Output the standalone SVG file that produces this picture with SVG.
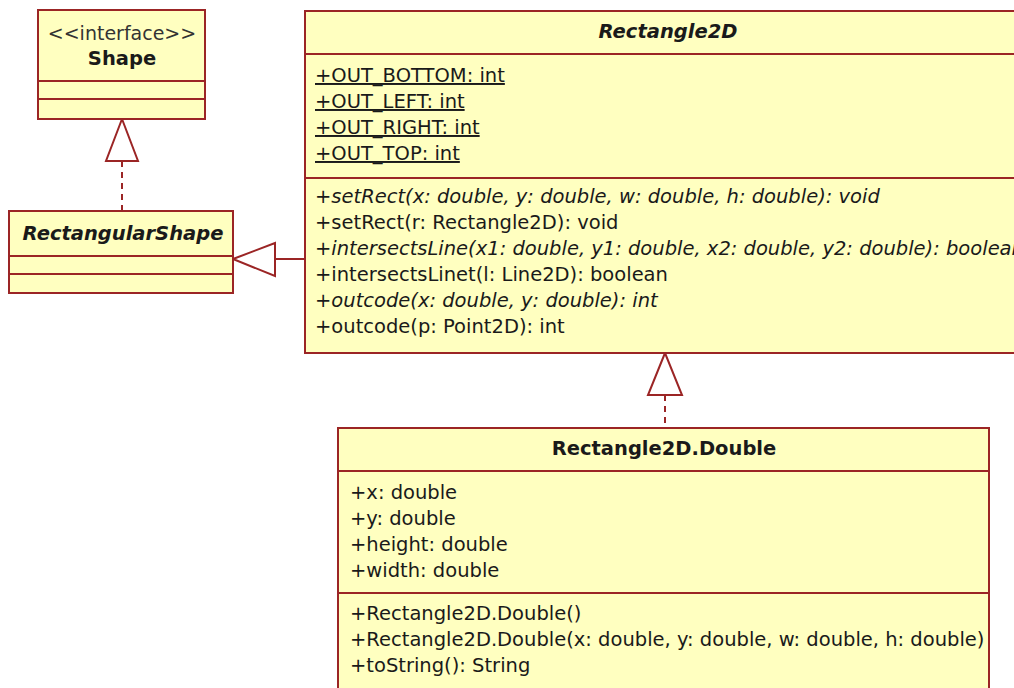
<svg xmlns="http://www.w3.org/2000/svg" width="1014" height="688" viewBox="0 0 1014 688">
  <style>
    .box { fill: #ffffc0; stroke: #9b2525; stroke-width: 2; }
    .sep { stroke: #9b2525; stroke-width: 2; }
    .edge { stroke: #9b2525; stroke-width: 2; fill: none; }
    .dash { stroke-dasharray: 6 5; }
    .head { fill: #ffffff; stroke: #9b2525; stroke-width: 2; }
    text { font-family: "DejaVu Sans", Verdana, sans-serif; font-size: 19.5px; fill: #1a1a1a; }
    .title { font-weight: bold; text-anchor: middle; }
    .abs { font-style: italic; }
    .static { text-decoration: underline; }
    .stereo { fill: #333; text-anchor: middle; font-size: 19px; }
  </style>
  <rect width="1014" height="688" fill="#ffffff"/>

  <g id="connectors">
    <!-- RectangularShape realizes Shape -->
    <line class="edge dash" x1="122" y1="161" x2="122" y2="211"/>
    <polygon class="head" points="122,119 106,161 138,161"/>
    <!-- Rectangle2D extends RectangularShape -->
    <line class="edge" x1="275" y1="259" x2="305" y2="259"/>
    <polygon class="head" points="233,259 275,243 275,276"/>
    <!-- Rectangle2D.Double extends Rectangle2D -->
    <line class="edge dash" x1="665" y1="395" x2="665" y2="428"/>
    <polygon class="head" points="665,353 648,395 682,395"/>
  </g>

  <g id="shape">
    <rect class="box" x="38" y="10" width="167" height="109"/>
    <line class="sep" x1="38" y1="81" x2="205" y2="81"/>
    <line class="sep" x1="38" y1="99" x2="205" y2="99"/>
    <text class="stereo" x="122" y="40">&lt;&lt;interface&gt;&gt;</text>
    <text class="title" x="122" y="65">Shape</text>
  </g>

  <g id="rectangularShape">
    <rect class="box" x="9" y="211" width="224" height="82"/>
    <line class="sep" x1="9" y1="256" x2="233" y2="256"/>
    <line class="sep" x1="9" y1="274" x2="233" y2="274"/>
    <text class="title abs" x="123" y="240">RectangularShape</text>
  </g>

  <g id="rectangle2D">
    <rect class="box" x="305" y="11" width="720" height="342"/>
    <line class="sep" x1="305" y1="54" x2="1014" y2="54"/>
    <line class="sep" x1="305" y1="178" x2="1014" y2="178"/>
    <text class="title abs" x="668" y="38">Rectangle2D</text>
    <text class="static" x="315" y="82">+OUT_BOTTOM: int</text>
    <text class="static" x="315" y="108">+OUT_LEFT: int</text>
    <text class="static" x="315" y="134">+OUT_RIGHT: int</text>
    <text class="static" x="315" y="160">+OUT_TOP: int</text>
    <text class="abs" x="315" y="203">+setRect(x: double, y: double, w: double, h: double): void</text>
    <text x="315" y="229">+setRect(r: Rectangle2D): void</text>
    <text class="abs" x="315" y="255">+intersectsLine(x1: double, y1: double, x2: double, y2: double): boolean</text>
    <text x="315" y="281">+intersectsLinet(l: Line2D): boolean</text>
    <text class="abs" x="315" y="307">+outcode(x: double, y: double): int</text>
    <text x="315" y="333">+outcode(p: Point2D): int</text>
  </g>

  <g id="rectangle2DDouble">
    <rect class="box" x="338" y="428" width="651" height="270"/>
    <line class="sep" x1="338" y1="471" x2="989" y2="471"/>
    <line class="sep" x1="338" y1="593" x2="989" y2="593"/>
    <text class="title" x="664" y="455">Rectangle2D.Double</text>
    <text x="350" y="499">+x: double</text>
    <text x="350" y="525">+y: double</text>
    <text x="350" y="551">+height: double</text>
    <text x="350" y="577">+width: double</text>
    <text x="350" y="620">+Rectangle2D.Double()</text>
    <text x="350" y="646">+Rectangle2D.Double(x: double, y: double, w: double, h: double)</text>
    <text x="350" y="672">+toString(): String</text>
  </g>
</svg>
